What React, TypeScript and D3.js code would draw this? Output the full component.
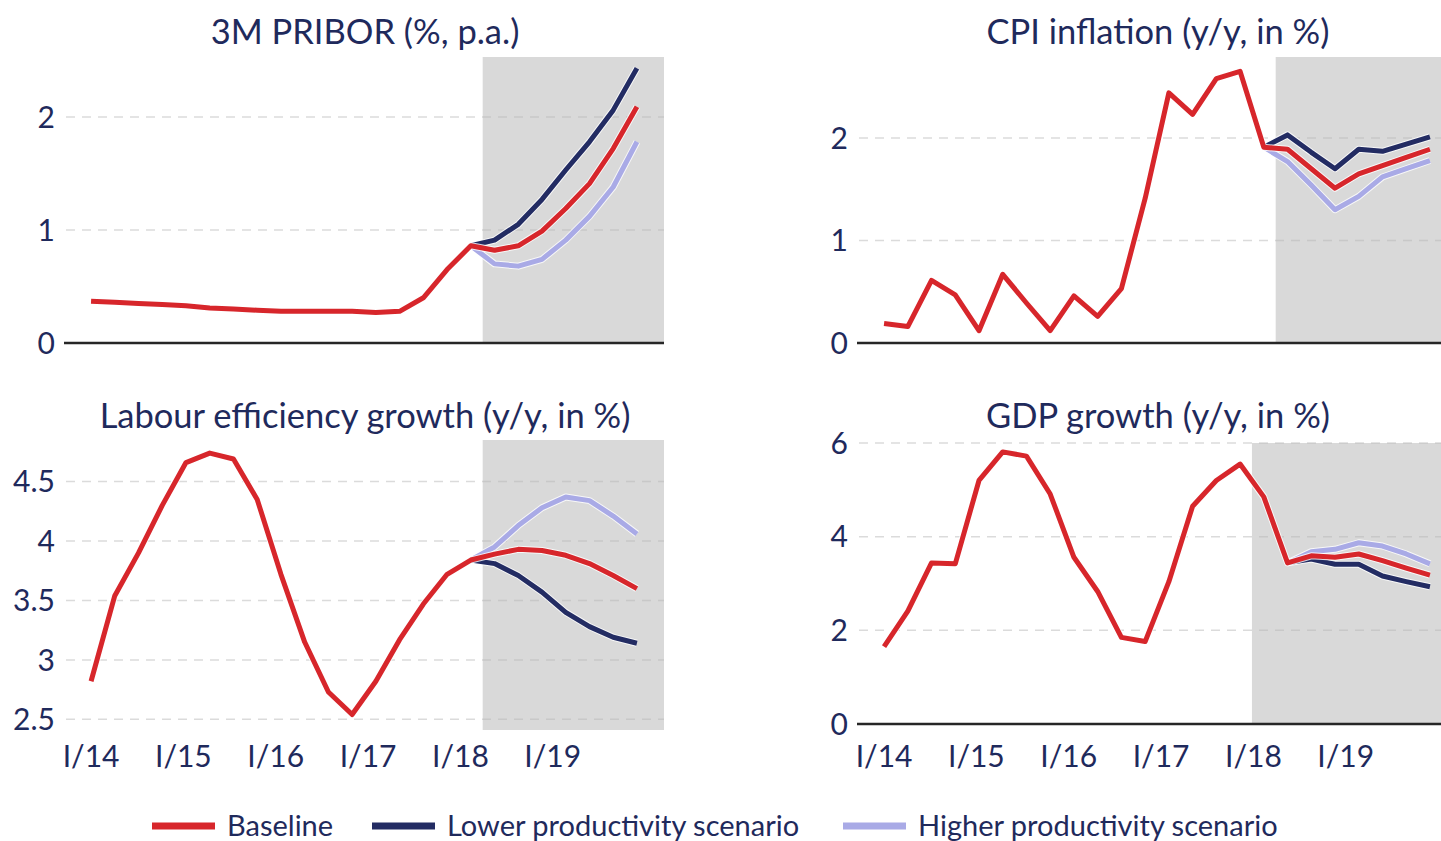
import * as d3 from "d3";

// quarters shown on the x axis, I/14 .. IV/19
const quarters = [
  "I/14", "II/14", "III/14", "IV/14",
  "I/15", "II/15", "III/15", "IV/15",
  "I/16", "II/16", "III/16", "IV/16",
  "I/17", "II/17", "III/17", "IV/17",
  "I/18", "II/18", "III/18", "IV/18",
  "I/19", "II/19", "III/19", "IV/19",
];
const yearLabels = ["I/14", "I/15", "I/16", "I/17", "I/18", "I/19"];

const _ = null;

const priborBase = [0.37, 0.36, 0.35, 0.34, 0.33, 0.31, 0.3, 0.29, 0.28, 0.28, 0.28, 0.28, 0.27, 0.28, 0.4, 0.65, 0.86, 0.82, 0.86, 0.99, 1.19, 1.41, 1.72, 2.09];
const priborLow = [_, _, _, _, _, _, _, _, _, _, _, _, _, _, _, _, 0.86, 0.91, 1.05, 1.27, 1.53, 1.78, 2.06, 2.43];
const priborHigh = [_, _, _, _, _, _, _, _, _, _, _, _, _, _, _, _, 0.86, 0.7, 0.68, 0.74, 0.91, 1.12, 1.38, 1.78];

const cpiBase = [0.19, 0.16, 0.61, 0.47, 0.12, 0.67, 0.39, 0.12, 0.46, 0.26, 0.53, 1.41, 2.44, 2.23, 2.58, 2.65, 1.91, 1.89, 1.7, 1.51, 1.65, 1.73, 1.81, 1.89];
const cpiLow = [_, _, _, _, _, _, _, _, _, _, _, _, _, _, _, _, 1.91, 2.03, 1.86, 1.7, 1.89, 1.87, 1.94, 2.01];
const cpiHigh = [_, _, _, _, _, _, _, _, _, _, _, _, _, _, _, _, 1.91, 1.77, 1.54, 1.3, 1.43, 1.62, 1.7, 1.78];

const labourBase = [2.82, 3.54, 3.9, 4.3, 4.66, 4.74, 4.69, 4.35, 3.72, 3.15, 2.73, 2.54, 2.82, 3.17, 3.47, 3.72, 3.84, 3.89, 3.93, 3.92, 3.88, 3.81, 3.71, 3.6];
const labourLow = [_, _, _, _, _, _, _, _, _, _, _, _, _, _, _, _, 3.84, 3.81, 3.71, 3.57, 3.4, 3.28, 3.19, 3.14];
const labourHigh = [_, _, _, _, _, _, _, _, _, _, _, _, _, _, _, _, 3.84, 3.95, 4.13, 4.28, 4.37, 4.34, 4.21, 4.06];

const gdpBase = [1.65, 2.41, 3.44, 3.42, 5.2, 5.81, 5.72, 4.91, 3.56, 2.83, 1.85, 1.76, 3.04, 4.65, 5.2, 5.55, 4.85, 3.44, 3.59, 3.56, 3.63, 3.49, 3.33, 3.18];
const gdpLow = [_, _, _, _, _, _, _, _, _, _, _, _, _, _, _, _, _, 3.44, 3.52, 3.41, 3.41, 3.16, 3.04, 2.93];
const gdpHigh = [_, _, _, _, _, _, _, _, _, _, _, _, _, _, _, _, _, 3.44, 3.68, 3.73, 3.87, 3.8, 3.63, 3.42];

const RED = "#d7262b";
const NAVY = "#232c63";
const LILAC = "#a9aae6";
const TEXT = "#1f2a5c";
const FONT = "Lato, 'Open Sans', sans-serif";

type PanelProps = {
  title: string;
  titleY: number;
  left: number;
  top: number;
  bottom: number;
  domain: [number, number];
  ticks: number[];
  base: (number | null)[];
  low: (number | null)[];
  high: (number | null)[];
  forecastFrom: string;
  zeroLine: boolean;
  xLabelY?: number;
};

const Panel = (p: PanelProps) => {
  const width = 600;
  const x = d3.scalePoint<string>().domain(quarters).range([p.left, p.left + width]).padding(1.14);
  const y = d3.scaleLinear().domain(p.domain).range([p.bottom, p.top]);
  const step = x.step();
  const labelX = d3
    .scalePoint<string>()
    .domain(yearLabels)
    .range([x("I/14")!, x("I/19")! - 13]);

  const line = d3
    .line<number | null>()
    .defined((d) => d != null)
    .x((_d, i) => x(quarters[i])!)
    .y((d) => y(d as number));

  const shadeX = x(p.forecastFrom)! - step / 2;
  const series = [
    { data: p.high, color: LILAC },
    { data: p.low, color: NAVY },
    { data: p.base, color: RED },
  ];

  return (
    <g>
      <text x={p.left + 301} y={p.titleY} textAnchor="middle" fontSize={34.5} fill={TEXT} fontFamily={FONT}>
        {p.title}
      </text>
      <rect x={shadeX} y={p.top} width={p.left + width - shadeX} height={p.bottom - p.top} fill="#d9d9d9" />
      {p.ticks.map((t) => (
        <g key={t}>
          {!(p.zeroLine && t === 0) && (
            <line
              x1={p.left + 2}
              x2={p.left + width}
              y1={y(t)}
              y2={y(t)}
              stroke="#b8b8b8"
              strokeOpacity={0.5}
              strokeWidth={1.5}
              strokeDasharray="9 7"
            />
          )}
          <text x={p.left - 9} y={y(t)} dy="0.36em" textAnchor="end" fontSize={30} fill={TEXT} fontFamily={FONT}>
            {t}
          </text>
        </g>
      ))}
      {p.zeroLine && (
        <line x1={p.left} x2={p.left + width} y1={y(0)} y2={y(0)} stroke="#262626" strokeWidth={2.5} />
      )}
      {series.map((s, i) => (
        <g key={i}>
          <path d={line(s.data) ?? ""} fill="none" stroke="#fff" strokeOpacity={0.8} strokeWidth={7} strokeLinejoin="round" />
          <path d={line(s.data) ?? ""} fill="none" stroke={s.color} strokeWidth={5} strokeLinejoin="round" />
        </g>
      ))}
      {p.xLabelY != null &&
        yearLabels.map((l) => (
          <text key={l} x={labelX(l)} y={p.xLabelY} textAnchor="middle" fontSize={30} fill={TEXT} fontFamily={FONT}>
            {l}
          </text>
        ))}
    </g>
  );
};

const legendItems = [
  { label: "Baseline", color: RED, x: 152 },
  { label: "Lower productivity scenario", color: NAVY, x: 372 },
  { label: "Higher productivity scenario", color: LILAC, x: 843 },
];

export default function App() {
  return (
    <>
      <style>{"body{margin:0}"}</style>
      <svg width={1441} height={841} style={{ display: "block", background: "#fff" }}>
        <Panel
          title="3M PRIBOR (%, p.a.)"
          titleY={44}
          left={64}
          top={57}
          bottom={343}
          domain={[0, 2.53]}
          ticks={[0, 1, 2]}
          base={priborBase}
          low={priborLow}
          high={priborHigh}
          forecastFrom="II/18"
          zeroLine
        />
        <Panel
          title="CPI inflation (y/y, in %)"
          titleY={44}
          left={857}
          top={57}
          bottom={343}
          domain={[0, 2.79]}
          ticks={[0, 1, 2]}
          base={cpiBase}
          low={cpiLow}
          high={cpiHigh}
          forecastFrom="II/18"
          zeroLine
        />
        <Panel
          title="Labour efficiency growth (y/y, in %)"
          titleY={428}
          left={64}
          top={440}
          bottom={730}
          domain={[2.41, 4.85]}
          ticks={[2.5, 3, 3.5, 4, 4.5]}
          base={labourBase}
          low={labourLow}
          high={labourHigh}
          forecastFrom="II/18"
          zeroLine={false}
          xLabelY={767}
        />
        <Panel
          title="GDP growth (y/y, in %)"
          titleY={428}
          left={857}
          top={443}
          bottom={724}
          domain={[0, 6]}
          ticks={[0, 2, 4, 6]}
          base={gdpBase}
          low={gdpLow}
          high={gdpHigh}
          forecastFrom="I/18"
          zeroLine
          xLabelY={767}
        />
        {legendItems.map((it) => (
          <g key={it.label}>
            <line x1={it.x} x2={it.x + 63} y1={826} y2={826} stroke={it.color} strokeWidth={7} />
            <text x={it.x + 75} y={836} fontSize={29} fill={TEXT} fontFamily={FONT}>
              {it.label}
            </text>
          </g>
        ))}
      </svg>
    </>
  );
}
